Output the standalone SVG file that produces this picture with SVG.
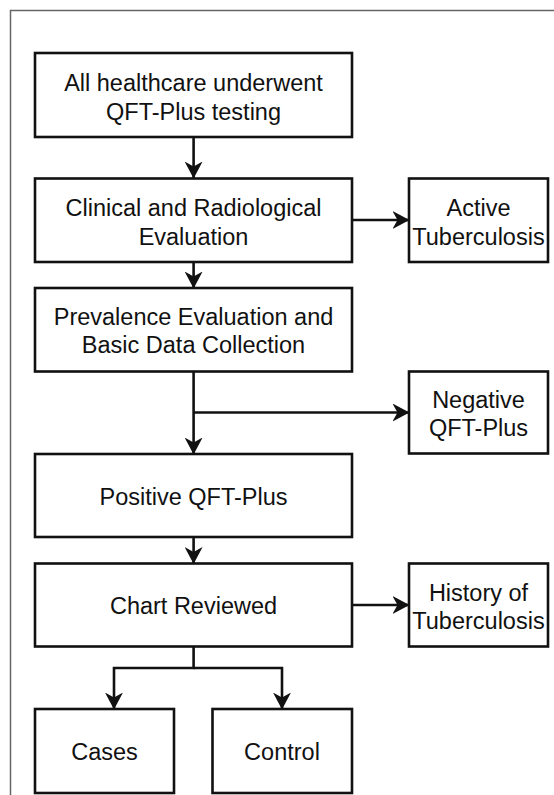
<svg xmlns="http://www.w3.org/2000/svg" width="554" height="795" viewBox="0 0 554 795">
<style>
.box{fill:#fff;stroke:#111;stroke-width:2.6}
.t{font-family:"Liberation Sans",Arial,sans-serif;font-size:23.5px;fill:#111;text-anchor:middle}
.c{fill:none;stroke:#111;stroke-width:2.6}
</style>
<defs>
<marker id="ah" viewBox="0 0 17 18" refX="16.5" refY="9" markerWidth="17" markerHeight="18" markerUnits="userSpaceOnUse" orient="auto">
<path d="M0,0 L17,9 L0,18 L5,9 Z" fill="#111"/>
</marker>
</defs>
<rect x="0" y="0" width="554" height="795" fill="#fff"/>
<path d="M10.5,795 V10.5 H554" fill="none" stroke="#666" stroke-width="1.5"/>
<g id="connectors">
<path class="c" d="M193.6,137 V178" marker-end="url(#ah)"/>
<path class="c" d="M193.6,262 V288" marker-end="url(#ah)"/>
<path class="c" d="M352,220 H409" marker-end="url(#ah)"/>
<path class="c" d="M193.6,371 V454" marker-end="url(#ah)"/>
<path class="c" d="M193.6,412.5 H409" marker-end="url(#ah)"/>
<path class="c" d="M193.6,537 V563.5" marker-end="url(#ah)"/>
<path class="c" d="M352,605 H409" marker-end="url(#ah)"/>
<path class="c" d="M193.6,646.5 V668 H114 V709" marker-end="url(#ah)"/>
<path class="c" d="M193.6,668 H282 V709" marker-end="url(#ah)"/>
</g>
<g id="n1"><rect class="box" x="35" y="53" width="317" height="84"/>
<text class="t" x="193.5" y="91">All healthcare underwent</text>
<text class="t" x="193.5" y="120">QFT-Plus testing</text></g>
<g id="n2"><rect class="box" x="35" y="178.5" width="317" height="83.5"/>
<text class="t" x="193.5" y="216">Clinical and Radiological</text>
<text class="t" x="193.5" y="244.5">Evaluation</text></g>
<g id="n3"><rect class="box" x="409" y="178.5" width="139" height="83.5"/>
<text class="t" x="478.5" y="216">Active</text>
<text class="t" x="478.5" y="244.5">Tuberculosis</text></g>
<g id="n4"><rect class="box" x="35" y="288" width="317" height="83.5"/>
<text class="t" x="193.5" y="325">Prevalence Evaluation and</text>
<text class="t" x="193.5" y="353">Basic Data Collection</text></g>
<g id="n5"><rect class="box" x="409" y="371.5" width="139" height="82"/>
<text class="t" x="478.5" y="408">Negative</text>
<text class="t" x="478.5" y="436">QFT-Plus</text></g>
<g id="n6"><rect class="box" x="35" y="454" width="317" height="83"/>
<text class="t" x="193.5" y="504.5">Positive QFT-Plus</text></g>
<g id="n7"><rect class="box" x="35" y="563.5" width="317" height="83"/>
<text class="t" x="193.5" y="614">Chart Reviewed</text></g>
<g id="n8"><rect class="box" x="409" y="563.5" width="139" height="83"/>
<text class="t" x="478.5" y="600.5">History of</text>
<text class="t" x="478.5" y="629">Tuberculosis</text></g>
<g id="n9"><rect class="box" x="35" y="709" width="139" height="84"/>
<text class="t" x="104.5" y="760">Cases</text></g>
<g id="n10"><rect class="box" x="212.5" y="709" width="139.5" height="84"/>
<text class="t" x="282" y="760">Control</text></g>
</svg>
